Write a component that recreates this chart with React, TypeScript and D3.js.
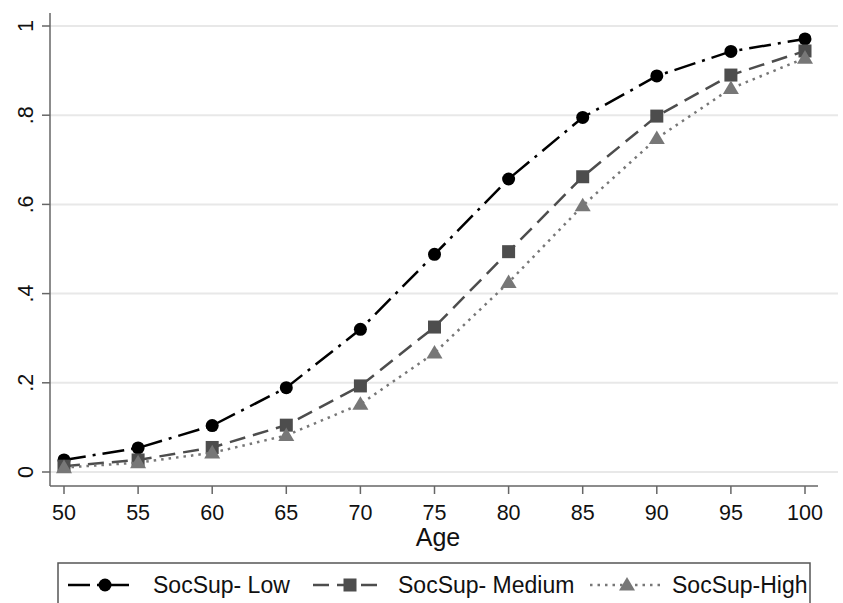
import React from "react";
import * as d3 from "d3";

// chart data
const ages = [50, 55, 60, 65, 70, 75, 80, 85, 90, 95, 100];
const lowValues = [0.027, 0.054, 0.104, 0.189, 0.32, 0.488, 0.657, 0.795, 0.888, 0.943, 0.971];
const mediumValues = [0.013, 0.027, 0.055, 0.105, 0.193, 0.325, 0.494, 0.662, 0.798, 0.89, 0.944];
const highValues = [0.01, 0.021, 0.043, 0.082, 0.152, 0.267, 0.425, 0.597, 0.748, 0.86, 0.928];
const seriesNames = ["SocSup- Low", "SocSup- Medium", "SocSup-High"];
const yTicks = [0, 0.2, 0.4, 0.6, 0.8, 1];
const yTickLabels = ["0", ".2", ".4", ".6", ".8", "1"];

const W = 843, H = 603;
const FONT = "'Liberation Sans', Arial, sans-serif";

const series = [
  { name: seriesNames[0], values: lowValues, color: "#000000", dash: "22,7,3,7", marker: "circle" },
  { name: seriesNames[1], values: mediumValues, color: "#4d4d4d", dash: "16,8", marker: "square" },
  { name: seriesNames[2], values: highValues, color: "#777777", dash: "2.5,5", marker: "triangle" },
];

function Marker({ type, x, y, color }: { type: string; x: number; y: number; color: string }) {
  if (type === "circle") return <circle cx={x} cy={y} r={6.5} fill={color} />;
  if (type === "square") return <rect x={x - 6.5} y={y - 6.5} width={13} height={13} fill={color} />;
  const s = 8;
  return <path d={`M${x},${y - s}L${x + s},${y + s * 0.7}L${x - s},${y + s * 0.7}Z`} fill={color} />;
}

export default function App() {
  const x = d3.scaleLinear().domain([50, 100]).range([64, 805]);
  const y = d3.scaleLinear().domain([0, 1]).range([472, 26]);
  const line = d3.line<number>().x((_, i) => x(ages[i])).y((d) => y(d));

  const axisLeft = 50, axisBottom = 486, axisTop = 13, axisRight = 818;

  // legend key positions (line start/end, marker, text start)
  const legendItems = [
    { lx1: 68, lx2: 134, mx: 105, tx: 153 },
    { lx1: 313, lx2: 384, mx: 350, tx: 398 },
    { lx1: 590, lx2: 662, mx: 627, tx: 672 },
  ];
  const legendY = 585;

  return (
    <svg width={W} height={H} style={{ position: "absolute", left: 0, top: 0, background: "#fff" }} fontFamily={FONT}>
      <rect width={W} height={H} fill="#fff" />
      {/* grid */}
      {yTicks.map((t) => (
        <line key={"g" + t} x1={axisLeft} x2={838} y1={y(t)} y2={y(t)} stroke="#e8e8e8" strokeWidth={2} />
      ))}
      {/* axes */}
      <line x1={axisLeft} x2={axisLeft} y1={axisTop} y2={axisBottom} stroke="#666" strokeWidth={1.5} />
      <line x1={axisLeft} x2={axisRight} y1={axisBottom} y2={axisBottom} stroke="#666" strokeWidth={1.5} />
      {yTicks.map((t, i) => (
        <g key={"yt" + t}>
          <line x1={axisLeft - 8} x2={axisLeft} y1={y(t)} y2={y(t)} stroke="#666" strokeWidth={1.5} />
          <text
            transform={`translate(33,${y(t)}) rotate(-90)`}
            textAnchor="middle"
            fontSize={21.5}
            fill="#111"
          >
            {yTickLabels[i]}
          </text>
        </g>
      ))}
      {ages.map((a) => (
        <g key={"xt" + a}>
          <line x1={x(a)} x2={x(a)} y1={axisBottom} y2={axisBottom + 8} stroke="#666" strokeWidth={1.5} />
          <text x={x(a)} y={520} textAnchor="middle" fontSize={21.5} fill="#111">
            {a}
          </text>
        </g>
      ))}
      <text x={438} y={546} textAnchor="middle" fontSize={25} fill="#111">
        Age
      </text>
      {/* series */}
      {series.map((s) => (
        <g key={s.name}>
          <path d={line(s.values) || ""} fill="none" stroke={s.color} strokeWidth={2.5} strokeDasharray={s.dash} />
          {s.values.map((v, i) => (
            <Marker key={i} type={s.marker} x={x(ages[i])} y={y(v)} color={s.color} />
          ))}
        </g>
      ))}
      {/* legend */}
      <rect x={58} y={563} width={752} height={60} fill="#fff" stroke="#555" strokeWidth={1.5} />
      {series.map((s, i) => {
        const it = legendItems[i];
        return (
          <g key={"lg" + s.name}>
            <line x1={it.lx1} x2={it.lx2} y1={legendY} y2={legendY} stroke={s.color} strokeWidth={2.5} strokeDasharray={s.dash} />
            <Marker type={s.marker} x={it.mx} y={legendY} color={s.color} />
            <text x={it.tx} y={legendY + 8} fontSize={23} fill="#111">
              {s.name}
            </text>
          </g>
        );
      })}
    </svg>
  );
}
